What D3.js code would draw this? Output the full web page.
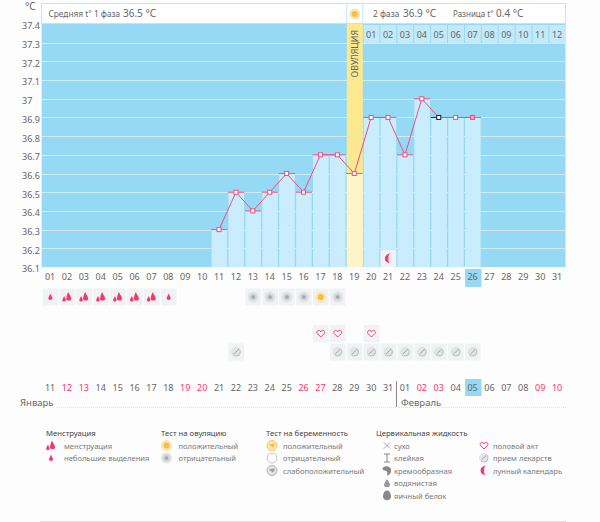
<!DOCTYPE html>
<html>
<head>
<meta charset="utf-8">
<script src="https://cdnjs.cloudflare.com/ajax/libs/d3/7.8.5/d3.min.js"></script>
<style>
html, body { margin: 0; padding: 0; background: #fdfdfd; }
svg { display: block; }
text { font-family: "Noto Sans", sans-serif; font-size: 9px; fill: #666; }
.axis path, .axis line { display: none; }
.axis text { font-family: "Noto Sans", sans-serif; font-size: 9px; }
.head { fill: #444; }
.leg { fill: #7a7a7a; font-size: 7.6px; }
</style>
</head>
<body>
<svg></svg>
<script>
const width = 600;
const height = 522;

// chart values
const days = d3.range(1, 32).map(d => d3.format("02")(d));
const tempTicks = [36.1, 36.2, 36.3, 36.4, 36.5, 36.6, 36.7, 36.8, 36.9, 37, 37.1, 37.2, 37.3, 37.4];
const tempDays = ["11", "12", "13", "14", "15", "16", "17", "18", "19", "20", "21", "22", "23", "24", "25", "26"];
const temps = [36.3, 36.5, 36.4, 36.5, 36.6, 36.5, 36.7, 36.7, 36.6, 36.9, 36.9, 36.7, 37, 36.9, 36.9, 36.9];
const febDays = ["01", "02", "03", "04", "05", "06", "07", "08", "09", "10", "11", "12"];
const febColumns = days.slice(19);
const dates = ["11", "12", "13", "14", "15", "16", "17", "18", "19", "20", "21", "22", "23", "24", "25", "26", "27", "28", "29", "30", "31", "01", "02", "03", "04", "05", "06", "07", "08", "09", "10"];
const redDates = [1, 2, 8, 9, 15, 16, 22, 23, 29, 30];
const ovulationDay = "19";
const todayDay = "26";
const blackPoint = "24";

const flowBig = ["02", "03", "04", "05", "06", "07"];
const flowSmall = ["01", "08"];
const ovuNegative = ["13", "14", "15", "16", "18"];
const ovuPositive = ["17"];
const hearts = ["17", "18", "20"];
const pills = ["12", "18", "19", "20", "21", "22", "23", "24", "25", "26"];
const moonDay = "21";

const legendGroups = [
  { title: "Менструация", items: [["flowBig", "менструация"], ["flowSmall", "небольшие выделения"]] },
  { title: "Тест на овуляцию", items: [["sun", "положительный"], ["grey", "отрицательный"]] },
  { title: "Тест на беременность", items: [["pregPos", "положительный"], ["pregNeg", "отрицательный"], ["pregWeak", "слабоположительный"]] },
  { title: "Цервикальная жидкость", items: [["dry", "сухо"], ["sticky", "клейкая"], ["creamy", "кремообразная"], ["watery", "водянистая"], ["egg", "яичный белок"]] },
  { title: "", items: [["heart", "половой акт"], ["pill", "прием лекарств"], ["moon", "лунный календарь"]] }
];
const legendX = [[46, 51, 64], [161, 166.5, 178.5], [266, 272, 283], [376, 387, 394], [0, 484, 493]];

const svg = d3.select("svg").attr("width", width).attr("height", height);

const x = d3.scaleBand().domain(days).range([41.6, 565.5]);
const y = d3.scaleLinear().domain([36.1, 37.4]).range([267, 24]);
const cx = d => x(d) + x.bandwidth() / 2;

// icons are drawn around 0,0
const icons = {
  flowBig(g) {
    g.append("path").attr("d", "M1,-5 C2,-2 4,-1 4,2 C4,4 -1,4 -1,2 C-1,-1 0,-3 1,-5Z").attr("fill", "#f4376f");
    g.append("path").attr("d", "M-3,-1 C-2.5,1 -1,2 -1.5,3.5 C-2,5 -5,5 -4.8,3 C-4.6,1.5 -3.6,0.5 -3,-1Z").attr("fill", "#f4376f");
  },
  flowSmall(g) {
    g.append("path").attr("d", "M0,-3.5 C1,-1 2,0 2,1.6 C2,3.4 -2,3.4 -2,1.6 C-2,0 -1,-1 0,-3.5Z").attr("fill", "#f4376f");
  },
  sun(g) {
    g.append("circle").attr("r", 5.5).attr("fill", "#fbe6b0");
    g.append("circle").attr("r", 3).attr("fill", "#f7bd48");
  },
  grey(g) {
    g.append("circle").attr("r", 5.5).attr("fill", "#e2e4e5");
    g.append("circle").attr("r", 3.5).attr("fill", "#d0d2d3");
    g.append("circle").attr("r", 1.8).attr("fill", "#a5a8aa");
  },
  pregPos(g) {
    g.append("circle").attr("r", 5).attr("fill", "#fbe6b0").attr("stroke", "#f2c566");
    g.append("path").attr("d", "M-3,-1 L3,-2 L1,2Z").attr("fill", "#f5b945");
  },
  pregNeg(g) {
    g.append("circle").attr("r", 5).attr("fill", "#fbfbfb").attr("stroke", "#c9c9c9");
  },
  pregWeak(g) {
    g.append("circle").attr("r", 5).attr("fill", "#e2e2e2").attr("stroke", "#b5b5b5");
    g.append("path").attr("d", "M-3,-1 L3,-2 L1,2Z").attr("fill", "#999");
  },
  dry(g) {
    g.append("path").attr("d", "M-3,-3 L3,3 M3,-3 L-3,3").attr("stroke", "#aaa").attr("fill", "none");
  },
  sticky(g) {
    g.append("path").attr("d", "M-3,-4 H3 M0,-4 V4 M-3,4 H3").attr("stroke", "#888").attr("fill", "none");
  },
  creamy(g) {
    g.append("path").attr("d", "M-4,-3 C0,-6 5,-3 4,1 C3.6,3 2,5 0,5 C1,2 0,0 -3,0 C-4,0 -5,-2 -4,-3Z").attr("fill", "#888");
  },
  watery(g) {
    g.append("path").attr("d", "M0,-4 C1,-2 3,0 3,2 C3,5 -3,5 -3,2 C-3,0 -1,-2 0,-4Z").attr("fill", "#999");
  },
  egg(g) {
    g.append("path").attr("d", "M0,-5 C3,-5 4,-1 4,1 C4,6 -4,6 -4,1 C-4,-1 -3,-5 0,-5Z").attr("fill", "#888");
  },
  heart(g) {
    g.append("path").attr("d", "M0,3.5 L-3.5,0 C-5,-3 -1,-4.5 0,-1.5 C1,-4.5 5,-3 3.5,0Z").attr("fill", "#fff").attr("stroke", "#f4376f").attr("stroke-width", 1);
  },
  pill(g) {
    g.append("circle").attr("r", 4.6).attr("fill", "#c4c4c4");
    g.append("circle").attr("cx", -0.6).attr("cy", -0.6).attr("r", 3.9).attr("fill", "#e4e4e4");
    g.append("path").attr("d", "M-2.6,2.2 L2.6,-2.8").attr("stroke", "#a8a8a8").attr("stroke-width", 1);
  },
  moon(g) {
    g.append("path").attr("d", "M2.5,-5 A6,5 0 0 0 2.5,5 A2.5,5 0 0 1 2.5,-5Z").attr("fill", "#f4376f");
  }
};

function icon(parent, name, px, py) {
  const g = parent.append("g").attr("transform", `translate(${px},${py})`);
  icons[name](g);
}

// sky background
svg.append("rect")
  .attr("x", x.range()[0]).attr("y", 24)
  .attr("width", x.range()[1] - x.range()[0]).attr("height", y(36.1) - 24)
  .attr("fill", "#95d9f5");

// dotted grid
svg.append("g").selectAll("line")
  .data(tempTicks.slice(0, -1))
  .enter().append("line")
  .attr("x1", x.range()[0]).attr("x2", x.range()[1])
  .attr("y1", d => Math.round(y(d)) + 0.5).attr("y2", d => Math.round(y(d)) + 0.5)
  .attr("stroke", "#fff").attr("stroke-dasharray", "1 1");

// header strip
svg.append("rect")
  .attr("x", x.range()[0]).attr("y", 3.5)
  .attr("width", x.range()[1] - x.range()[0]).attr("height", 20)
  .attr("fill", "#fff").attr("stroke", "#bfe6f7");

// February day cells on top
svg.append("g").selectAll("rect")
  .data(febColumns)
  .enter().append("rect")
  .attr("x", d => x(d) + 0.8).attr("y", 25)
  .attr("width", x.bandwidth() - 1).attr("height", 18)
  .attr("fill", "#c4e9f9");
svg.append("g").selectAll("text")
  .data(febColumns)
  .enter().append("text")
  .attr("x", cx).attr("y", 38)
  .attr("text-anchor", "middle")
  .text((d, i) => febDays[i]);

// ovulation column
svg.append("rect")
  .attr("x", x(ovulationDay) + 1).attr("y", 24)
  .attr("width", x.bandwidth() - 0.9).attr("height", y(36.1) - 24)
  .attr("fill", "#fbe88f");
svg.append("rect")
  .attr("x", x(ovulationDay) + 1).attr("y", 3.5)
  .attr("width", x.bandwidth() - 0.9).attr("height", 20)
  .attr("fill", "#fff").attr("stroke", "#bfe6f7");
svg.append("text")
  .attr("transform", `translate(${cx(ovulationDay) + 4},77.5) rotate(-90)`)
  .style("fill", "#666").style("font-size", "8.8px")
  .text("ОВУЛЯЦИЯ");
icon(svg, "sun", cx(ovulationDay) + 0.5, 14);

// temperature bars
svg.append("g").selectAll("rect")
  .data(tempDays)
  .enter().append("rect")
  .attr("x", d => x(d) + 1)
  .attr("y", (d, i) => y(temps[i]))
  .attr("width", d => d === ovulationDay ? x.bandwidth() - 0.9 : x.bandwidth() - 1.3)
  .attr("height", (d, i) => y(36.1) - y(temps[i]))
  .attr("fill", d => d === ovulationDay ? "#fdf5c9" : "#c9edfc");
svg.append("g").selectAll("line")
  .data(tempDays)
  .enter().append("line")
  .attr("x1", d => x(d) + 0.5).attr("x2", d => x(d) + x.bandwidth())
  .attr("y1", (d, i) => y(temps[i])).attr("y2", (d, i) => y(temps[i]))
  .attr("stroke", "#f0568a");
svg.append("line")
  .attr("x1", x(blackPoint) + 0.5).attr("x2", cx(blackPoint))
  .attr("y1", y(temps[tempDays.indexOf(blackPoint)])).attr("y2", y(temps[tempDays.indexOf(blackPoint)]))
  .attr("stroke", "#333");

// temperature line
const line = d3.line().x(d => cx(d[0])).y(d => y(d[1]));
svg.append("path")
  .datum(d3.zip(tempDays, temps))
  .attr("d", line)
  .attr("fill", "none")
  .attr("stroke", "#ee4f82");
svg.append("g").selectAll("rect")
  .data(d3.zip(tempDays, temps))
  .enter().append("rect")
  .attr("x", d => cx(d[0]) - 2).attr("y", d => y(d[1]) - 2)
  .attr("width", 4).attr("height", 4)
  .attr("fill", d => d[0] === todayDay ? "#f7a0bd" : "#fff")
  .attr("stroke", d => d[0] === blackPoint ? "#222" : "#ee4f82");

// y axis
const yAxis = svg.append("g").attr("class", "axis")
  .attr("transform", "translate(22,2)")
  .call(d3.axisLeft(y).tickValues(tempTicks).tickSize(0).tickPadding(0).tickFormat(d3.format("")));
yAxis.selectAll("text").attr("text-anchor", "start").attr("x", 0);
svg.append("text").attr("x", 25).attr("y", 10).style("font-size", "10px").text("°C");

// header texts
const head = [[48.5, "Средняя t° 1 фаза", 8.3], [123, "36.5 °C", 10], [373, "2 фаза", 8.3], [403, "36.9 °C", 10], [453, "Разница t°", 8], [496, "0.4 °C", 10]];
svg.append("g").selectAll("text")
  .data(head)
  .enter().append("text")
  .attr("x", d => d[0]).attr("y", 17)
  .style("font-size", d => d[2] + "px")
  .text(d => d[1]);

// today markers
svg.append("rect").attr("x", x(todayDay) + 1).attr("y", 269).attr("width", x.bandwidth() - 0.5).attr("height", 18).attr("fill", "#95d9f5");
svg.append("rect").attr("x", x(todayDay) + 1).attr("y", 379).attr("width", x.bandwidth() - 0.5).attr("height", 17).attr("fill", "#95d9f5");

// day axis
svg.append("g").attr("class", "axis")
  .attr("transform", "translate(0,267)")
  .call(d3.axisBottom(x).tickSize(0).tickPadding(7));

// date axis
const dateAxis = svg.append("g").attr("class", "axis")
  .attr("transform", "translate(0,379)")
  .call(d3.axisBottom(x).tickSize(0).tickPadding(6).tickFormat((d, i) => dates[i]));
dateAxis.selectAll("text").style("fill", (d, i) => redDates.includes(i) ? "#f4376f" : "#666");

// event rows
function row(list, name, cy) {
  const g = svg.append("g");
  list.forEach(d => {
    g.append("rect")
      .attr("x", x(d) + 1).attr("y", cy - 8.5)
      .attr("width", x.bandwidth() - 1.3).attr("height", 17)
      .attr("fill", "#eff3f4");
    icon(g, name, cx(d) + 0.3, cy);
  });
}
row(flowSmall, "flowSmall", 297);
row(flowBig, "flowBig", 297);
row(ovuNegative, "grey", 297);
row(ovuPositive, "sun", 297);
row(hearts, "heart", 333.5);
row(pills, "pill", 352);
row([moonDay], "moon", 258.5);

// month labels
svg.append("line").attr("x1", 396.5).attr("x2", 396.5).attr("y1", 381).attr("y2", 407).attr("stroke", "#888");
svg.append("text").attr("x", 20).attr("y", 406).style("font-size", "9.5px").text("Январь");
svg.append("text").attr("x", 401).attr("y", 406).style("font-size", "9.5px").text("Февраль");
svg.append("line").attr("x1", 57).attr("x2", 566).attr("y1", 407.5).attr("y2", 407.5).attr("stroke", "#ddd").attr("stroke-dasharray", "1 1");

// legend
const rowY = d3.scaleLinear().domain([0, 1]).range([445.5, 458]);
legendGroups.forEach((grp, i) => {
  const [tx, ix, lx] = legendX[i];
  const g = svg.append("g");
  if (grp.title) g.append("text").attr("class", "head").attr("x", tx).attr("y", 436).style("font-size", "7.7px").text(grp.title);
  grp.items.forEach((item, j) => {
    icon(g, item[0], ix, rowY(j));
    g.append("text").attr("class", "leg").attr("x", lx).attr("y", rowY(j) + 3).text(item[1]);
  });
});
svg.append("line").attr("x1", 40).attr("x2", 566).attr("y1", 521.5).attr("y2", 521.5).attr("stroke", "#ddd");
</script>
</body>
</html>
